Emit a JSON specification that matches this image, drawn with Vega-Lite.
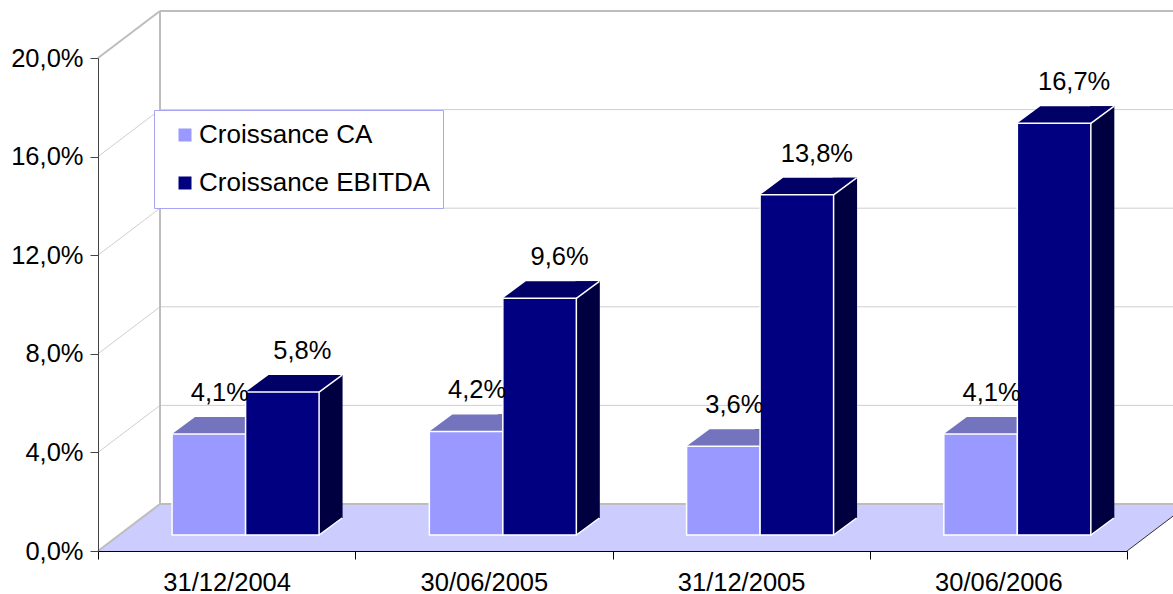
{
  "$schema": "https://vega.github.io/schema/vega-lite/v6.json",
  "autosize": {"type": "none"},
  "width": 1029,
  "height": 493,
  "padding": {"left": 98, "top": 58, "right": 46, "bottom": 43},
  "background": "white",
  "config": {
    "locale": {"number": {"decimal": ",", "thousands": " ", "grouping": [3], "currency": ["", " €"]}},
    "view": {"stroke": null},
    "font": "Liberation Sans"
  },
  "datasets": {
    "bars": [
      {"date": "31/12/2004", "serie": "Croissance CA", "value": 0.041},
      {"date": "31/12/2004", "serie": "Croissance EBITDA", "value": 0.058},
      {"date": "30/06/2005", "serie": "Croissance CA", "value": 0.042},
      {"date": "30/06/2005", "serie": "Croissance EBITDA", "value": 0.096},
      {"date": "31/12/2005", "serie": "Croissance CA", "value": 0.036},
      {"date": "31/12/2005", "serie": "Croissance EBITDA", "value": 0.138},
      {"date": "30/06/2006", "serie": "Croissance CA", "value": 0.041},
      {"date": "30/06/2006", "serie": "Croissance EBITDA", "value": 0.167}
    ],
    "grid": [{"v": 0}, {"v": 0.04}, {"v": 0.08}, {"v": 0.12}, {"v": 0.16}, {"v": 0.2}],
    "one": [{}]
  },
  "resolve": {"scale": {"xOffset": "independent"}},
  "layer": [
    {
      "data": {"name": "one"},
      "mark": {"type": "point", "shape": "M 0 0 L 1029 0 L 1091 -47 L 62 -47 Z", "size": 4, "filled": true, "fill": "#CCCCFF", "strokeWidth": 0, "opacity": 1},
      "encoding": {
        "x": {"value": 0},
        "y": {"datum": 0, "type": "quantitative", "scale": {"domain": [0, 0.2], "nice": false}}
      }
    },
    {
      "data": {"name": "grid"},
      "transform": [{"filter": "datum.v > 0.001 && datum.v < 0.199"}],
      "mark": {"type": "rule", "stroke": "#CFCFCF", "strokeWidth": 1, "xOffset": 62, "x2Offset": 62, "yOffset": -47},
      "encoding": {
        "x": {"value": 0},
        "x2": {"value": "width"},
        "y": {"field": "v", "type": "quantitative"}
      }
    },
    {
      "data": {"name": "grid"},
      "transform": [{"filter": "datum.v > 0.001 && datum.v < 0.199"}],
      "mark": {"type": "rule", "stroke": "#CFCFCF", "strokeWidth": 1, "x2Offset": 62, "y2Offset": -47},
      "encoding": {
        "x": {"value": 0},
        "x2": {"value": 0},
        "y": {"field": "v", "type": "quantitative"},
        "y2": {"field": "v"}
      }
    },
    {
      "data": {"name": "grid"},
      "transform": [{"filter": "datum.v < 0.001 || datum.v > 0.199"}],
      "mark": {"type": "rule", "stroke": "#BDBDBD", "strokeWidth": 2, "xOffset": 62, "x2Offset": 62, "yOffset": -47},
      "encoding": {
        "x": {"value": 0},
        "x2": {"value": "width"},
        "y": {"field": "v", "type": "quantitative"}
      }
    },
    {
      "data": {"name": "grid"},
      "transform": [{"filter": "datum.v < 0.001 || datum.v > 0.199"}],
      "mark": {"type": "rule", "stroke": "#BDBDBD", "strokeWidth": 2, "x2Offset": 62, "y2Offset": -47},
      "encoding": {
        "x": {"value": 0},
        "x2": {"value": 0},
        "y": {"field": "v", "type": "quantitative"},
        "y2": {"field": "v"}
      }
    },
    {
      "data": {"name": "one"},
      "mark": {"type": "rule", "stroke": "#BDBDBD", "strokeWidth": 2, "xOffset": 62, "yOffset": -47, "y2Offset": -47},
      "encoding": {
        "x": {"value": 0},
        "y": {"datum": 0, "type": "quantitative"},
        "y2": {"datum": 0.2}
      }
    },
    {
      "data": {"name": "one"},
      "mark": {"type": "rule", "stroke": "#333333", "strokeWidth": 1, "x2Offset": 62, "y2Offset": -47},
      "encoding": {
        "x": {"value": "width"},
        "x2": {"value": "width"},
        "y": {"datum": 0, "type": "quantitative"},
        "y2": {"datum": 0}
      }
    },
    {
      "data": {"name": "bars"},
      "mark": {"type": "bar", "fill": "#000040", "yOffset": -33, "y2Offset": -33},
      "encoding": {
        "x": {"field": "date", "type": "nominal", "sort": null, "scale": {"domain": ["31/12/2004", "30/06/2005", "31/12/2005", "30/06/2006"], "paddingInner": 0, "paddingOuter": 0}},
        "xOffset": {"field": "serie", "type": "nominal", "scale": {"type": "band", "domain": ["Croissance CA", "Croissance EBITDA"], "paddingInner": 0.68707, "paddingOuter": 1.09354, "align": 0.9184}},
        "y": {"field": "value", "type": "quantitative"}
      }
    },
    {
      "data": {"name": "bars"},
      "mark": {"type": "point", "shape": "M 36.75 -16 L 36.75 -33 L 59.75 -33 Z", "size": 4, "filled": true, "fill": "#000040", "strokeWidth": 0, "opacity": 1},
      "encoding": {
        "x": {"field": "date", "type": "nominal", "sort": null},
        "xOffset": {"field": "serie", "type": "nominal", "scale": {"type": "band", "domain": ["Croissance CA", "Croissance EBITDA"], "paddingInner": 0, "paddingOuter": 0.75, "align": 0.672}},
        "y": {"datum": 0, "type": "quantitative"}
      }
    },
    {
      "data": {"name": "bars"},
      "mark": {"type": "point", "shape": "M -36.75 -16 L 36.75 -16 L 59.75 -33 L -13.75 -33 Z", "size": 4, "filled": true, "strokeWidth": 0, "opacity": 1},
      "encoding": {
        "x": {"field": "date", "type": "nominal", "sort": null},
        "xOffset": {"field": "serie", "type": "nominal", "scale": {"type": "band", "domain": ["Croissance CA", "Croissance EBITDA"], "paddingInner": 0, "paddingOuter": 0.75, "align": 0.672}},
        "y": {"field": "value", "type": "quantitative"},
        "fill": {"condition": {"test": "datum.serie === 'Croissance CA'", "value": "#7373BE"}, "value": "#000066"}
      }
    },
    {
      "data": {"name": "bars"},
      "mark": {"type": "bar", "stroke": "white", "strokeWidth": 1.5, "yOffset": -16, "y2Offset": -16},
      "encoding": {
        "x": {
          "field": "date", "type": "nominal", "sort": null,
          "axis": {"title": null, "orient": "bottom", "domainColor": "#000000", "domainWidth": 1, "tickColor": "#000000", "tickSize": 8, "tickBand": "extent", "labelFontSize": 25.5, "labelColor": "#000000", "labelPadding": 11, "labelAngle": 0, "labelAlign": "center", "labelBaseline": "top", "labelOverlap": false, "grid": false, "zindex": 1}
        },
        "xOffset": {"field": "serie", "type": "nominal", "scale": {"type": "band", "domain": ["Croissance CA", "Croissance EBITDA"], "paddingInner": 0, "paddingOuter": 0.75, "align": 0.672}},
        "y": {
          "field": "value", "type": "quantitative",
          "axis": {"title": null, "orient": "left", "values": [0, 0.04, 0.08, 0.12, 0.16, 0.2], "format": ".1%", "domainColor": "#444444", "tickColor": "#444444", "tickSize": 8, "labelFontSize": 25.5, "labelColor": "#000000", "labelPadding": 7, "labelAlign": "right", "labelBaseline": "middle", "grid": false, "zindex": 1}
        },
        "color": {
          "field": "serie", "type": "nominal",
          "scale": {"domain": ["Croissance CA", "Croissance EBITDA"], "range": ["#9999FF", "#000080"]},
          "legend": {"title": null, "orient": "none", "legendX": 56, "legendY": 52, "symbolType": "square", "symbolSize": 169, "symbolStrokeWidth": 0, "labelFontSize": 26, "labelColor": "#000000", "labelLimit": 500, "padding": 12, "rowPadding": 22, "symbolOffset": 6, "labelOffset": 1, "strokeColor": "#A6A6F2", "fillColor": "white", "zindex": 1}
        }
      }
    },
    {
      "data": {"name": "bars"},
      "transform": [{"filter": "datum.serie === 'Croissance EBITDA'"}],
      "mark": {"type": "point", "shape": "M 36.75 -16 L 59.75 -33", "size": 4, "filled": false, "stroke": "white", "strokeWidth": 1.5, "opacity": 1},
      "encoding": {
        "x": {"field": "date", "type": "nominal", "sort": null},
        "xOffset": {"field": "serie", "type": "nominal", "scale": {"type": "band", "domain": ["Croissance CA", "Croissance EBITDA"], "paddingInner": 0, "paddingOuter": 0.75, "align": 0.672}},
        "y": {"field": "value", "type": "quantitative"}
      }
    },
    {
      "data": {"name": "bars"},
      "transform": [{"filter": "datum.serie === 'Croissance EBITDA'"}],
      "mark": {"type": "point", "shape": "M 36.75 -16 L 59.75 -33", "size": 4, "filled": false, "stroke": "white", "strokeWidth": 1.5, "opacity": 1},
      "encoding": {
        "x": {"field": "date", "type": "nominal", "sort": null},
        "xOffset": {"field": "serie", "type": "nominal", "scale": {"type": "band", "domain": ["Croissance CA", "Croissance EBITDA"], "paddingInner": 0, "paddingOuter": 0.75, "align": 0.672}},
        "y": {"datum": 0, "type": "quantitative"}
      }
    },
    {
      "data": {"name": "bars"},
      "mark": {"type": "text", "fontSize": 25.5, "color": "#000000", "align": "center", "baseline": "alphabetic", "dy": -49},
      "encoding": {
        "x": {"field": "date", "type": "nominal", "sort": null},
        "xOffset": {"field": "serie", "type": "nominal", "scale": {"type": "band", "domain": ["Croissance CA", "Croissance EBITDA"], "paddingInner": 0, "paddingOuter": 0.559, "align": 0.874}},
        "y": {"field": "value", "type": "quantitative"},
        "text": {"field": "value", "type": "quantitative", "format": ".1%"}
      }
    }
  ]
}
